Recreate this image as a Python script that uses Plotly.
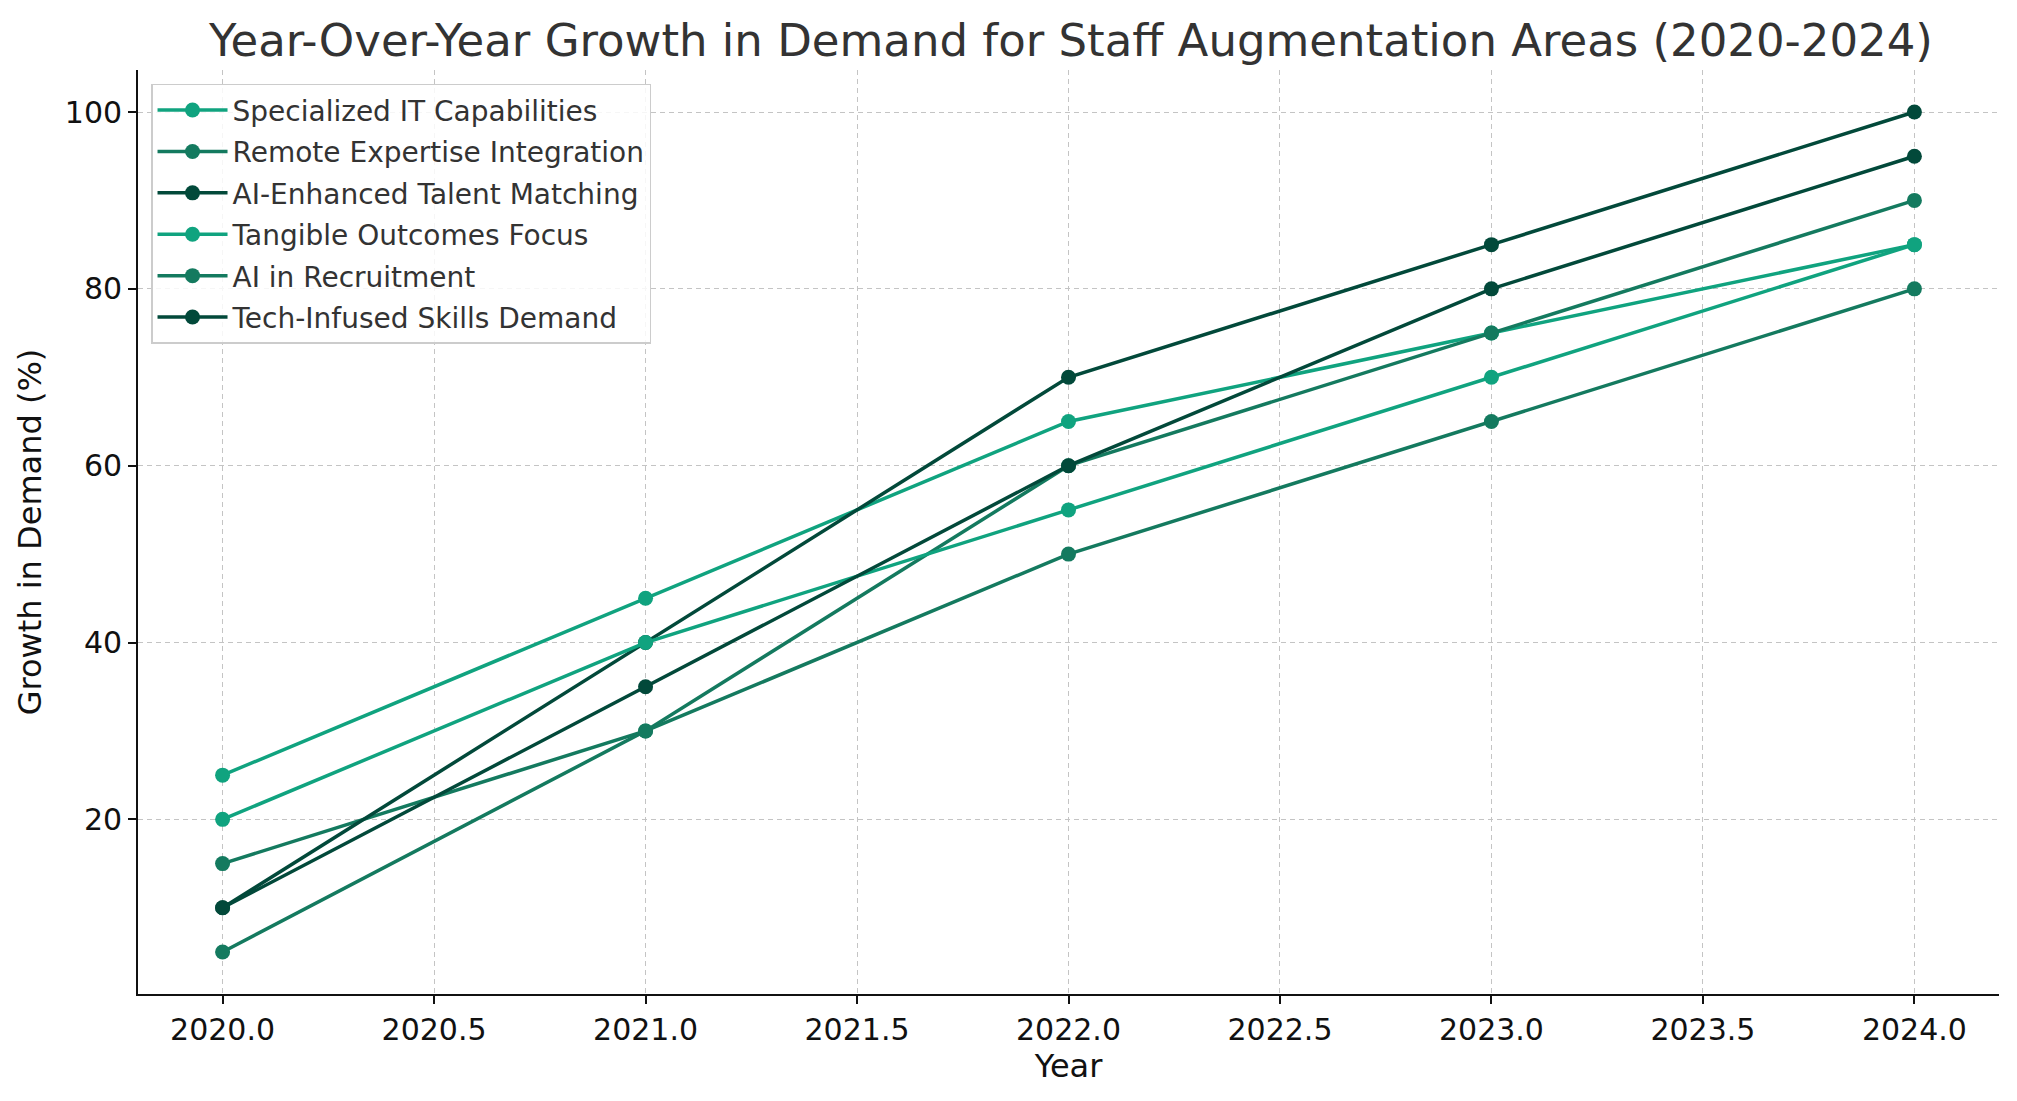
import plotly.graph_objects as go

years = [2020, 2021, 2022, 2023, 2024]

specialized_it = [25, 45, 65, 75, 85]
remote_expertise = [15, 30, 60, 75, 90]
ai_talent_matching = [10, 40, 70, 85, 100]
tangible_outcomes = [20, 40, 55, 70, 85]
ai_recruitment = [5, 30, 50, 65, 80]
tech_skills = [10, 35, 60, 80, 95]

names = ["Specialized IT Capabilities", "Remote Expertise Integration",
         "AI-Enhanced Talent Matching", "Tangible Outcomes Focus",
         "AI in Recruitment", "Tech-Infused Skills Demand"]
series = [specialized_it, remote_expertise, ai_talent_matching,
          tangible_outcomes, ai_recruitment, tech_skills]

# three greens, cycled like the matplotlib colour cycle
colors = ["#10a37f", "#147a5f", "#02493a"] * 2

fig = go.Figure()
for name, vals, c in zip(names, series, colors):
    fig.add_trace(go.Scatter(x=years, y=vals, name=name, mode="lines+markers",
                             line=dict(color=c, width=3.5),
                             marker=dict(color=c, size=15),
                             legendgroup=name))

axis_style = dict(showline=True, linecolor="#111111", linewidth=1.8,
                  ticks="outside", ticklen=8, tickwidth=1.8, tickcolor="#111111",
                  showgrid=True, gridcolor="#c4c4c4", griddash="5px,4px", gridwidth=1.2,
                  zeroline=False, tickfont=dict(size=30, color="#111111"),
                  mirror=False)

fig.update_layout(
    width=2017, height=1101,
    template="plotly_white",
    font=dict(family="DejaVu Sans", color="#111111"),
    title=dict(text="Year-Over-Year Growth in Demand for Staff Augmentation Areas (2020-2024)",
               x=0.527, xanchor="center", y=0.971, yanchor="middle",
               font=dict(size=45, color="#333333")),
    margin=dict(l=130, r=26, t=62, b=115),
    plot_bgcolor="white", paper_bgcolor="white",
    legend=dict(x=0.007, y=0.985, xanchor="left", yanchor="top",
                bgcolor="rgba(255,255,255,0.85)", bordercolor="#cccccc", borderwidth=1.5,
                font=dict(size=28, color="#333333"), tracegroupgap=2,
                itemwidth=70),
    showlegend=True,
)
fig.update_xaxes(range=[2019.8, 2024.2], dtick=0.5, tick0=2020, tickformat=".1f",
                 title=dict(text="Year", font=dict(size=32, color="#111111"), standoff=8),
                 **axis_style)
fig.update_yaxes(range=[0.25, 104.75], tickvals=[20, 40, 60, 80, 100],
                 title=dict(text="Growth in Demand (%)", font=dict(size=32, color="#111111"), standoff=14),
                 **axis_style)

fig.write_html("out.html")
